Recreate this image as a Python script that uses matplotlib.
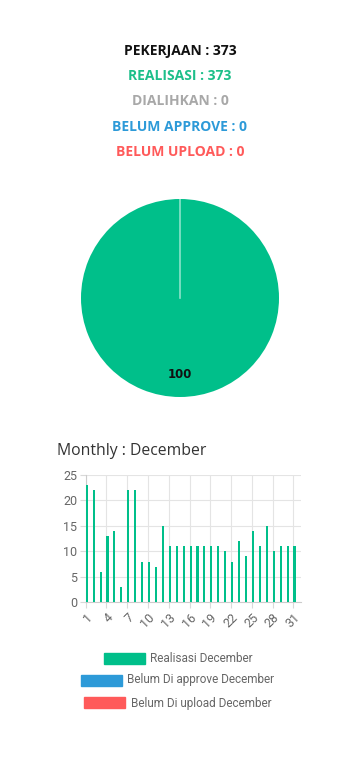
import matplotlib
matplotlib.use("Agg")
import matplotlib.pyplot as plt
import numpy as np

# ---- data ----
header_labels = ["PEKERJAAN : 373", "REALISASI : 373", "DIALIHKAN : 0",
                 "BELUM APPROVE : 0", "BELUM UPLOAD : 0"]
header_colors = ["#111111", "#1dbf8a", "#a8a8a8", "#2d9ad8", "#ff5a5a"]

pie_values = [100]
pie_labels = ["100"]

days = list(range(1, 32))
realisasi = [23, 22, 6, 13, 14, 3, 22, 22, 8, 8, 7, 15, 11, 11, 11, 11, 11, 11,
             11, 11, 10, 8, 12, 9, 14, 11, 15, 10, 11, 11, 11]
belum_approve = [0] * 31
belum_upload = [0] * 31
series_names = ["Realisasi December", "Belum Di approve December", "Belum Di upload December"]
series_colors = ["#00bf8a", "#2d9ad8", "#ff5a5a"]
xtick_days = list(range(1, 32, 3))
yticks = [0, 5, 10, 15, 20, 25]

W, H = 360, 763
fig = plt.figure(figsize=(W / 100, H / 100), dpi=100)
fig.patch.set_facecolor("white")

def px(x0, y0, w, h):
    return [x0 / W, 1 - (y0 + h) / H, w / W, h / H]

# ---- header ----
ys = [51, 76, 101, 127, 152]
for t, c, y in zip(header_labels, header_colors, ys):
    fig.text(0.5, 1 - y / H, t, ha="center", va="center", color=c,
             fontsize=10, fontweight="bold", family=["Open Sans", "DejaVu Sans"])

# ---- pie ----
axp = fig.add_axes(px(81, 199, 198, 198))
axp.pie(pie_values, colors=[series_colors[0]], startangle=90, counterclock=False,
        wedgeprops=dict(linewidth=0))
axp.plot([0, 0], [0, 1], color="white", alpha=0.55, lw=1.2)
axp.text(0, -0.77, pie_labels[0], ha="center", va="center", fontsize=8.5,
         fontweight="bold", color="#111111", family="DejaVu Sans")
axp.set_xlim(-1, 1); axp.set_ylim(-1, 1)
axp.set_aspect("equal")
axp.axis("off")

# ---- monthly title ----
fig.text(57 / W, 1 - 451 / H, "Monthly : December", ha="left", va="center",
         fontsize=11.3, color="#333333", family=["Open Sans", "DejaVu Sans"])

# ---- bar chart ----
ax = fig.add_axes(px(85.7, 475, 215, 127.3))
x = np.array(days, dtype=float)
bw = 0.3
ax.bar(x, realisasi, width=bw, align="edge", color=series_colors[0], linewidth=0, zorder=3)
ax.bar(x + bw, belum_approve, width=bw, align="edge", color=series_colors[1], linewidth=0, zorder=3)
ax.bar(x + 2 * bw, belum_upload, width=bw, align="edge", color=series_colors[2], linewidth=0, zorder=3)
ax.set_xlim(1, 32.05)
ax.set_ylim(0, 25)
ax.set_yticks(yticks)
ax.set_xticks(xtick_days)
ax.set_xticklabels([str(d) for d in xtick_days], rotation=45, ha="right",
                   rotation_mode="anchor")
for lab in ax.get_xticklabels() + ax.get_yticklabels():
    lab.set_family(["Roboto", "DejaVu Sans"])
    lab.set_fontsize(9)
    lab.set_color("#666666")
ax.tick_params(axis="both", length=4, color="#d9d9d9", pad=2)
ax.grid(True, color="#e4e4e4", lw=0.8, zorder=0)
for s in ["top", "right"]:
    ax.spines[s].set_visible(False)
for s in ["left", "bottom"]:
    ax.spines[s].set_color("#cccccc")
    ax.spines[s].set_linewidth(0.8)

# ---- legend ----
leg = [(104, 653, 150, 658), (81, 675, 127, 680), (84, 697, 131, 703)]
for (rx, ry, tx, ty), name, col in zip(leg, series_names, series_colors):
    fig.patches.append(plt.Rectangle((rx / W, 1 - (ry + 11) / H), 41 / W, 11 / H,
                                     transform=fig.transFigure, color=col, figure=fig))
    fig.text(tx / W, 1 - ty / H, name, ha="left", va="center", fontsize=8.5,
             color="#666666", family=["Roboto", "DejaVu Sans"])

fig.savefig("out.png", dpi=100, facecolor="white")
